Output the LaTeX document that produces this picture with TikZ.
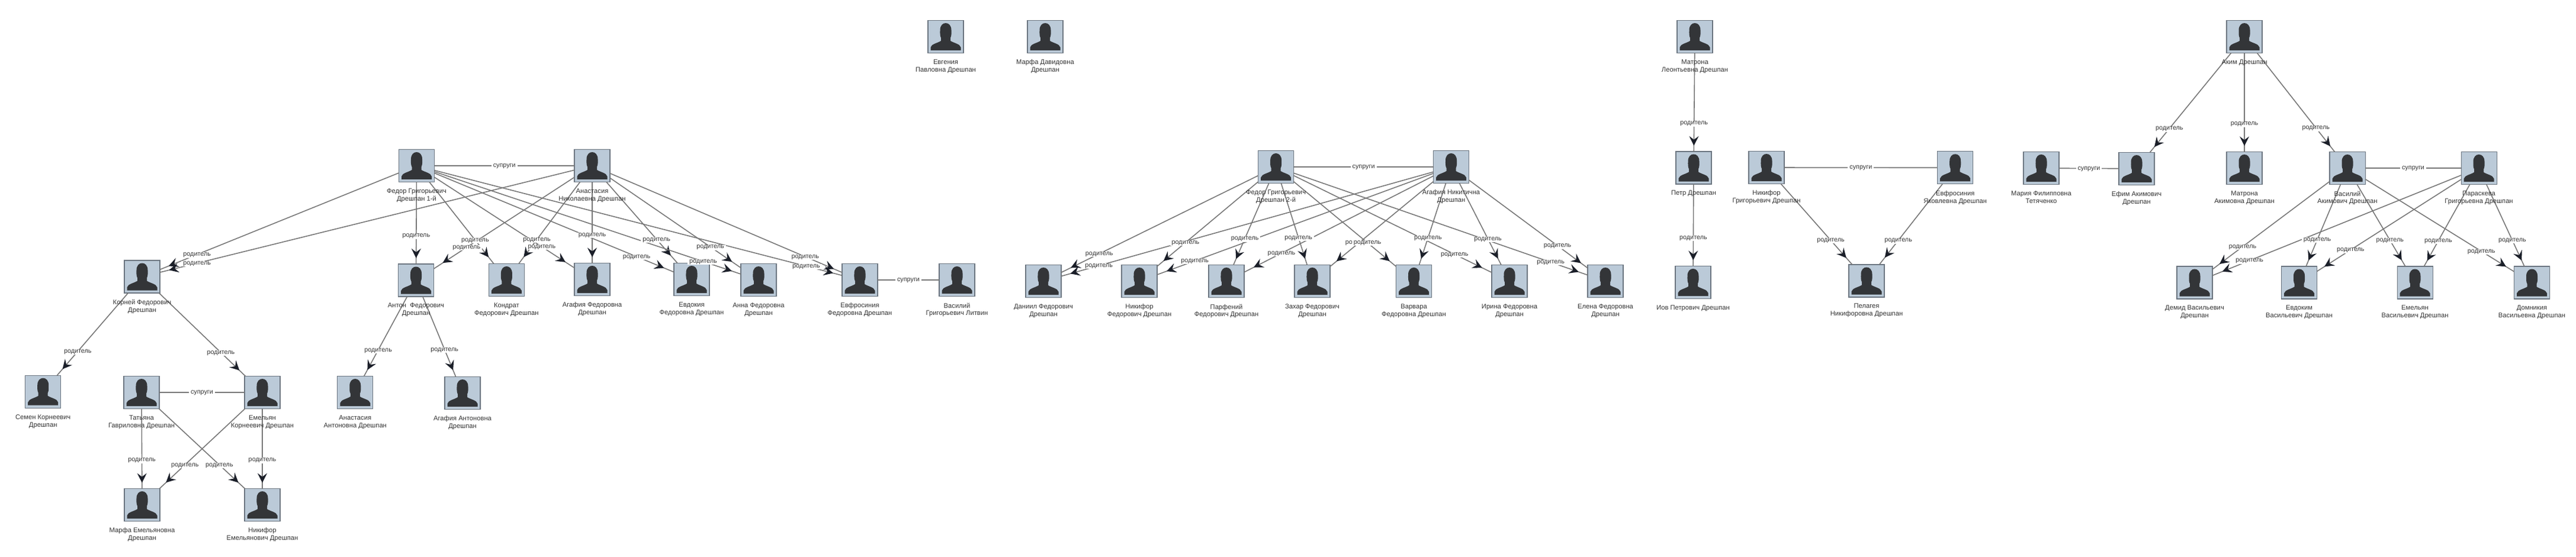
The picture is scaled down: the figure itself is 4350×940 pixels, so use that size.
\documentclass[tikz,border=0pt]{standalone}
\usepackage{fontspec}
\setmainfont{Liberation Sans}
\usetikzlibrary{arrows.meta,calc,decorations.markings}
\definecolor{boxfill}{HTML}{BBCAD8}
\definecolor{boxline}{HTML}{6B7580}
\definecolor{sil}{HTML}{333538}
\definecolor{linkgray}{HTML}{777777}
\definecolor{tipdark}{HTML}{1B1F29}
\definecolor{txt}{HTML}{333333}
\pgfdeclarelayer{fg}
\pgfsetlayers{main,fg}
\tikzset{
  avatarbox/.style={draw=boxline,line width=1.1pt,fill=boxfill,minimum width=60pt,minimum height=55pt,inner sep=0pt,outer sep=0pt},
  avatar/.pic={\fill[sil] (-25.5,23) -- (-25.5,18) .. controls (-24,12) and (-14,11) .. (-8,7) -- (-8,2) .. controls (-10,-2) and (-9.5,-6) .. (-9.5,-11) .. controls (-9.5,-19) and (-5,-23) .. (0,-23) .. controls (5,-23) and (9.5,-19) .. (9.5,-11) .. controls (9.5,-6) and (10,-2) .. (8,2) -- (8,7) .. controls (14,11) and (24,12) .. (25.5,18) -- (25.5,23) -- cycle;},
  persontext/.style={anchor=north,align=center,inner sep=0pt,text=txt,font=\fontsize{11.2}{12.9}\selectfont},
  linklabel/.style={fill=white,inner xsep=3pt,inner ysep=0.5pt,yshift=-1pt,text=txt,font=\fontsize{10.8}{13}\selectfont},
  linkline/.style={draw=linkgray,line width=1.6pt},
  tipat/.style={postaction={decorate},decoration={markings,mark=at position -#1pt with {\arrow{Stealth[length=16pt,width=16pt,inset=6pt,color=tipdark,fill=tipdark]}}}}
}
% name, x, y, text
\newcommand{\person}[4]{%
  \node[avatarbox] (#1) at (#2,#3) {};
  \pic at (#2,#3) {avatar};
  \begin{pgfonlayer}{fg}
  \node[persontext] (#1-name) at (#2,#3+38.5) {#4};
  \end{pgfonlayer}}
% parent, child, label fraction, tip distance
\newcommand{\kin}[4]{%
  \draw[linkline,tipat=#4] (#1) -- (#2);
  \begin{pgfonlayer}{fg}
  \node[linklabel] (#1-#2-lab) at ($(#1.center)!#3!(#2.center)$) {родитель};
  \end{pgfonlayer}}
\newcommand{\spouses}[2]{%
  \draw[linkline] (#1) -- (#2);
  \begin{pgfonlayer}{fg}
  \node[linklabel] (#1-#2-lab) at ($(#1.center)!0.5!(#2.center)$) {супруги};
  \end{pgfonlayer}}
\begin{document}
\begin{tikzpicture}[x=1pt,y=-1pt]
\useasboundingbox (0,0) rectangle (4350,940);
\fill[white] (0,0) rectangle (4350,940);
% family 1
\person{Fa}{703.5}{280}{Федор Григорьевич\\Дрешпан 1-й}
\person{Ma}{1000}{280}{Анастасия\\Николаевна Дрешпан}
\person{Ko}{240}{467.5}{Корней Федорович\\Дрешпан}
\person{An}{702.5}{473.5}{Антон\ \ Федорович\\Дрешпан}
\person{Kd}{855.4}{473}{Кондрат\\Федорович Дрешпан}
\person{Ag}{1000}{472}{Агафия Федоровна\\Дрешпан}
\person{Ev}{1168}{472}{Евдокия\\Федоровна Дрешпан}
\person{Ann}{1281}{473}{Анна Федоровна\\Дрешпан}
\person{Ef}{1452}{473}{Евфросиния\\Федоровна Дрешпан}
\person{Vl}{1616}{473}{Василий\\Григорьевич Литвин}
\person{Se}{72.7}{661.7}{Семен Корнеевич\\Дрешпан}
\person{Ta}{239}{663}{Татьяна\\Гавриловна Дрешпан}
\person{Em}{443}{663}{Емельян\\Корнеевич Дрешпан}
\person{Aa}{599.8}{663}{Анастасия\\Антоновна Дрешпан}
\person{Aga}{781}{664}{Агафия Антоновна\\Дрешпан}
\person{Mf}{240}{853}{Марфа Емельяновна\\Дрешпан}
\person{Nk}{443}{853}{Никифор\\Емельянович Дрешпан}
\spouses{Fa}{Ma}
\spouses{Ef}{Vl}
\spouses{Ta}{Em}
\kin{Fa}{Ko}{0.8}{16}
\kin{Ma}{Ko}{0.878}{16}
\kin{Fa}{An}{0.61}{10}
\kin{Ma}{An}{0.713}{18}
\kin{Fa}{Kd}{0.651}{14}
\kin{Ma}{Kd}{0.646}{14}
\kin{Fa}{Ag}{0.713}{18}
\kin{Ma}{Ag}{0.608}{10}
\kin{Fa}{Ev}{0.8}{18}
\kin{Ma}{Ev}{0.647}{17}
\kin{Fa}{Ann}{0.838}{16}
\kin{Ma}{Ann}{0.71}{18}
\kin{Fa}{Ef}{0.879}{15.5}
\kin{Ma}{Ef}{0.796}{15}
\kin{Ko}{Se}{0.65}{14}
\kin{Ko}{Em}{0.655}{14}
\kin{An}{Aa}{0.622}{12}
\kin{An}{Aga}{0.614}{12}
\kin{Ta}{Mf}{0.6}{10}
\kin{Em}{Nk}{0.6}{10}
\kin{Em}{Mf}{0.644}{15}
\kin{Ta}{Nk}{0.644}{15}
% isolated
\person{Eg}{1597}{62}{Евгения\\Павловна Дрешпан}
\person{Md}{1765}{62}{Марфа Давидовна\\Дрешпан}
% family 2
\person{Fb}{2154.6}{282}{Федор Григорьевич\\Дрешпан 2-й}
\person{Mb}{2450.5}{282}{Агафия Никитична\\Дрешпан}
\person{Da}{1762}{475}{Даниил Федорович\\Дрешпан}
\person{Ni}{1924}{475}{Никифор\\Федорович Дрешпан}
\person{Pa}{2071}{475}{Парфений\\Федорович Дрешпан}
\person{Za}{2216}{475}{Захар Федорович\\Дрешпан}
\person{Va}{2387.5}{475}{Варвара\\Федоровна Дрешпан}
\person{Ir}{2549}{475}{Ирина Федоровна\\Дрешпан}
\person{El}{2711}{475}{Елена Федоровна\\Дрешпан}
\spouses{Fb}{Mb}
\kin{Fb}{Da}{0.76}{18}
\kin{Mb}{Da}{0.864}{16}
\kin{Fb}{Ni}{0.662}{14}
\kin{Mb}{Ni}{0.822}{17}
\kin{Fb}{Pa}{0.627}{11}
\kin{Mb}{Pa}{0.755}{18}
\kin{Fb}{Za}{0.62}{11}
\kin{Mb}{Za}{0.663}{14}
\kin{Fb}{Va}{0.663}{14}
\kin{Mb}{Va}{0.62}{11}
\kin{Fb}{Ir}{0.765}{18}
\kin{Mb}{Ir}{0.63}{12}
\kin{Fb}{El}{0.834}{16}
\kin{Mb}{El}{0.689}{14}
% family 3
\person{Ml}{2862}{62}{Матрона\\Леонтьевна Дрешпан}
\person{Pe}{2860}{283.5}{Петр Дрешпан}
\person{Io}{2859}{477}{Иов Петрович Дрешпан}
\kin{Ml}{Pe}{0.66}{10}
\kin{Pe}{Io}{0.61}{10}
% family 4
\person{Ng}{2983}{283}{Никифор\\Григорьевич Дрешпан}
\person{Ey}{3301.7}{283.3}{Евфросиния\\Яковлевна Дрешпан}
\person{Pl}{3152}{474.5}{Пелагея\\Никифоровна Дрешпан}
\spouses{Ng}{Ey}
\kin{Ng}{Pl}{0.642}{15}
\kin{Ey}{Pl}{0.642}{15}
% family 5
\person{Ak}{3790}{62}{Аким Дрешпан}
\person{Mr}{3447}{284}{Мария Филипповна\\Тетяченко}
\person{Ef2}{3608}{285}{Ефим Акимович\\Дрешпан}
\person{Mt}{3790}{284}{Матрона\\Акимовна Дрешпан}
\person{Vs}{3964}{284}{Василий\\Акимович Дрешпан}
\person{Pr}{4186}{284}{Параскева\\Григорьевна Дрешпан}
\person{Dm}{3706}{477.5}{Демид Васильевич\\Дрешпан}
\person{Ed}{3882.5}{477.5}{Евдоким\\Васильевич Дрешпан}
\person{Eb}{4078}{477.5}{Емельян\\Васильевич Дрешпан}
\person{Dn}{4275.5}{477.5}{Домникия\\Васильевна Дрешпан}
\spouses{Mr}{Ef2}
\spouses{Vs}{Pr}
\kin{Ak}{Ef2}{0.696}{12}
\kin{Ak}{Mt}{0.663}{10}
\kin{Ak}{Vs}{0.694}{12}
\kin{Vs}{Dm}{0.686}{15}
\kin{Pr}{Dm}{0.807}{18}
\kin{Vs}{Ed}{0.625}{11}
\kin{Pr}{Ed}{0.714}{15}
\kin{Vs}{Eb}{0.629}{12}
\kin{Pr}{Eb}{0.635}{11}
\kin{Vs}{Dn}{0.726}{16}
\kin{Pr}{Dn}{0.63}{11}
\end{tikzpicture}
\end{document}
